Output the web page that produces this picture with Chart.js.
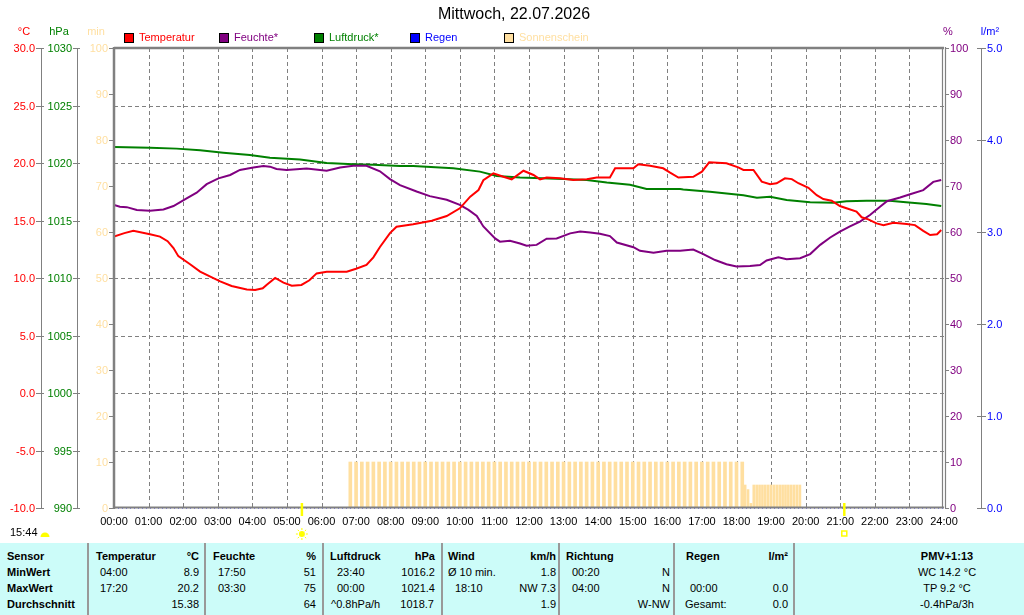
<!DOCTYPE html>
<html>
<head>
<meta charset="utf-8">
<script src="https://cdn.jsdelivr.net/npm/chart.js@4.4.0/dist/chart.umd.min.js"></script>
<style>
body { margin: 0; background: #fff; width: 1024px; height: 615px; overflow: hidden; font-family: "Liberation Sans", Arial, sans-serif; }
#wrap { position: relative; width: 1024px; height: 543px; }
#stats { position: absolute; left: 0; top: 543px; width: 1024px; height: 72px; background: #ccfcf9; font-size: 11px; color: #000; }
#stats span { position: absolute; white-space: nowrap; line-height: 13px; }
#stats .b { font-weight: bold; }
#stats .c { transform: translateX(-50%); }
#stats .sep { position: absolute; top: 0; width: 2px; height: 72px; background: #999; }
</style>
</head>
<body>
<div id="wrap"><canvas id="chart" width="1024" height="543"></canvas></div>
<div id="stats">
  <div class="sep" style="left:87px"></div>
  <div class="sep" style="left:204px"></div>
  <div class="sep" style="left:322px"></div>
  <div class="sep" style="left:441px"></div>
  <div class="sep" style="left:558px"></div>
  <div class="sep" style="left:673px"></div>
  <div class="sep" style="left:793px"></div>

  <span class="b" style="left:7px;top:7px">Sensor</span>
  <span class="b" style="left:7px;top:23px">MinWert</span>
  <span class="b" style="left:7px;top:39px">MaxWert</span>
  <span class="b" style="left:7px;top:55px">Durchschnitt</span>

  <span class="b" style="left:96px;top:7px">Temperatur</span>
  <span class="b" style="right:825px;top:7px">°C</span>
  <span style="left:100px;top:23px">04:00</span>
  <span style="right:825px;top:23px">8.9</span>
  <span style="left:100px;top:39px">17:20</span>
  <span style="right:825px;top:39px">20.2</span>
  <span style="right:825px;top:55px">15.38</span>

  <span class="b" style="left:213px;top:7px">Feuchte</span>
  <span class="b" style="right:708px;top:7px">%</span>
  <span style="left:218px;top:23px">17:50</span>
  <span style="right:708px;top:23px">51</span>
  <span style="left:218px;top:39px">03:30</span>
  <span style="right:708px;top:39px">75</span>
  <span style="right:708px;top:55px">64</span>

  <span class="b" style="left:330px;top:7px">Luftdruck</span>
  <span class="b" style="right:589px;top:7px">hPa</span>
  <span style="left:337px;top:23px">23:40</span>
  <span style="right:589px;top:23px">1016.2</span>
  <span style="left:337px;top:39px">00:00</span>
  <span style="right:589px;top:39px">1021.4</span>
  <span style="left:331px;top:55px">^0.8hPa/h</span>
  <span style="right:590px;top:55px">1018.7</span>

  <span class="b" style="left:448px;top:7px">Wind</span>
  <span class="b" style="right:468px;top:7px">km/h</span>
  <span style="left:448px;top:23px">Ø 10 min.</span>
  <span style="right:468px;top:23px">1.8</span>
  <span style="left:455px;top:39px">18:10</span>
  <span style="right:468px;top:39px">NW 7.3</span>
  <span style="right:468px;top:55px">1.9</span>

  <span class="b" style="left:566px;top:7px">Richtung</span>
  <span style="left:572px;top:23px">00:20</span>
  <span style="right:354px;top:23px">N</span>
  <span style="left:572px;top:39px">04:00</span>
  <span style="right:354px;top:39px">N</span>
  <span style="right:354px;top:55px">W-NW</span>

  <span class="b" style="left:686px;top:7px">Regen</span>
  <span class="b" style="right:236px;top:7px">l/m²</span>
  <span style="left:690px;top:39px">00:00</span>
  <span style="right:236px;top:39px">0.0</span>
  <span style="left:685px;top:55px">Gesamt:</span>
  <span style="right:236px;top:55px">0.0</span>

  <span class="b c" style="left:947px;top:7px">PMV+1:13</span>
  <span class="c" style="left:947px;top:23px">WC 14.2 °C</span>
  <span class="c" style="left:947px;top:39px">TP 9.2 °C</span>
  <span class="c" style="left:947px;top:55px">-0.4hPa/3h</span>
</div>
<script>
// values, x in hours
const tempHours = [0, 0.3, 0.56, 1.04, 1.33, 1.55, 1.72, 1.86, 2.2, 2.49, 2.8, 3.07, 3.4, 3.84, 4.08, 4.3, 4.41, 4.66, 4.9, 5.14,
  5.42, 5.65, 5.86, 6.15, 6.73, 7.0, 7.3, 7.5, 7.69, 7.98, 8.17, 8.65, 9.19, 9.62, 10.0, 10.3, 10.54, 10.68, 10.97, 11.26,
  11.5, 11.84, 12.13, 12.32, 12.51, 12.9, 13.28, 13.67, 13.96, 14.34, 14.49, 15.02, 15.16, 15.5, 15.88, 16.08, 16.32, 16.75, 17.0, 17.21,
  17.71, 18.05, 18.2, 18.49, 18.73, 18.97, 19.16, 19.4, 19.6, 19.79, 20.08, 20.32, 20.51, 20.75, 20.99, 21.18, 21.47, 21.62, 21.81, 22.05,
  22.25, 22.54, 22.92, 23.16, 23.4, 23.6, 23.8, 23.92];
const tempValues = [13.6, 13.9, 14.1, 13.8, 13.6, 13.2, 12.6, 11.9, 11.2, 10.55, 10.1, 9.7, 9.3, 9.0, 8.95, 9.1, 9.4, 10.0, 9.6, 9.33,
  9.4, 9.8, 10.4, 10.55, 10.55, 10.8, 11.13, 11.8, 12.7, 13.9, 14.46, 14.67, 14.98, 15.39, 16.06, 17.07, 17.65, 18.5, 19.1, 18.8,
  18.58, 19.33, 18.96, 18.58, 18.73, 18.67, 18.52, 18.58, 18.73, 18.73, 19.54, 19.54, 19.89, 19.77, 19.54, 19.16, 18.73, 18.8, 19.25, 20.06,
  19.97, 19.62, 19.4, 19.4, 18.38, 18.15, 18.24, 18.67, 18.6, 18.24, 17.85, 17.2, 16.87, 16.72, 16.26, 16.06, 15.77, 15.28, 15.1, 14.75,
  14.6, 14.8, 14.7, 14.6, 14.1, 13.74, 13.8, 14.17];

const humHours = [0, 0.17, 0.37, 0.66, 1.04, 1.43, 1.72, 2.1, 2.39, 2.68, 3.02, 3.36, 3.64, 4.03, 4.32, 4.51, 4.7, 4.99, 5.57, 6.15,
  6.54, 6.92, 7.3, 7.69, 7.98, 8.27, 8.75, 9.13, 9.62, 10.0, 10.25, 10.49, 10.68, 11.02, 11.16, 11.45, 11.74, 11.93, 12.22, 12.51,
  12.8, 13.19, 13.48, 13.77, 14.05, 14.34, 14.54, 15.02, 15.21, 15.6, 15.98, 16.37, 16.75, 17.04, 17.38, 17.71, 18.0, 18.39, 18.68, 18.87,
  19.21, 19.45, 19.84, 20.13, 20.42, 20.71, 20.99, 21.28, 21.57, 21.86, 22.15, 22.35, 22.73, 23.02, 23.4, 23.69, 23.92];
const humValues = [65.9, 65.5, 65.4, 64.8, 64.6, 64.9, 65.65, 67.3, 68.55, 70.4, 71.67, 72.4, 73.5, 74.0, 74.35, 74.2, 73.7, 73.5, 73.8, 73.3,
  74.0, 74.4, 74.4, 73.2, 71.5, 70.2, 68.8, 67.8, 67.0, 65.9, 64.8, 63.5, 61.2, 58.6, 57.9, 58.1, 57.5, 57.0, 57.2, 58.55,
  58.6, 59.7, 60.1, 59.9, 59.6, 59.1, 57.7, 56.7, 55.9, 55.5, 55.9, 55.9, 56.2, 55.2, 53.9, 53.0, 52.5, 52.6, 52.8, 53.8,
  54.5, 54.1, 54.3, 55.2, 57.2, 58.8, 60.1, 61.2, 62.25, 63.7, 65.5, 66.7, 67.5, 68.2, 69.1, 70.9, 71.3];

const pressHours = [0, 1.04, 1.81, 2.49, 3.16, 3.93, 4.51, 5.38, 6.15, 6.92, 7.5, 8.27, 8.65, 9.81, 10.58, 11.07, 11.74, 12.99, 13.67,
  14.25, 14.92, 15.4, 16.37, 16.46, 17.23, 18.2, 18.59, 18.97, 19.45, 20.13, 20.8, 21.18, 21.76, 22.43, 22.82, 23.49, 23.92];
const pressValues = [1021.4, 1021.33, 1021.25, 1021.1, 1020.9, 1020.7, 1020.46, 1020.3, 1020.0, 1019.9, 1019.85, 1019.74, 1019.74, 1019.54,
  1019.25, 1018.87, 1018.73, 1018.6, 1018.52, 1018.3, 1018.1, 1017.74, 1017.74, 1017.7, 1017.5, 1017.2, 1016.98, 1017.07, 1016.78,
  1016.58, 1016.55, 1016.67, 1016.72, 1016.72, 1016.6, 1016.43, 1016.26];

const rainHours = [0, 24];
const rainValues = [0, 0];

// sunshine minutes per 10-min slot from 06:50, then per 5-min slot from 18:15
const sunStart = "06:50";
const sunMinutes = [10, 10, 10, 10, 10, 10, 10, 10, 10, 10,
  10, 10, 10, 10, 10, 10, 10, 10, 10, 10,
  10, 10, 10, 10, 10, 10, 10, 10, 10, 10,
  10, 10, 10, 10, 10, 10, 10, 10, 10, 10,
  10, 10, 10, 10, 10, 10, 10, 10, 10, 10,
  10, 10, 10, 10, 10, 10, 10, 10, 10, 10,
  10, 10, 10, 10, 10, 10, 10, 10, 10];
const sunLateStart = "18:15";
const sunLateMinutes = [5, 4, 1, 5, 5, 5, 5, 5, 5, 5, 5, 5, 5, 5, 5, 5, 5, 5, 5, 5];

const sunrise = "05:26";
const sunset = "21:07";

const hourLabels = ["00:00", "01:00", "02:00", "03:00", "04:00", "05:00", "06:00", "07:00", "08:00", "09:00", "10:00", "11:00", "12:00",
  "13:00", "14:00", "15:00", "16:00", "17:00", "18:00", "19:00", "20:00", "21:00", "22:00", "23:00", "24:00"];
const tempTicks = ["-10.0", "-5.0", "0.0", "5.0", "10.0", "15.0", "20.0", "25.0", "30.0"];
const pressTicks = ["990", "995", "1000", "1005", "1010", "1015", "1020", "1025", "1030"];
const minTicks = ["0", "10", "20", "30", "40", "50", "60", "70", "80", "90", "100"];
const humTicks = ["0", "10", "20", "30", "40", "50", "60", "70", "80", "90", "100"];
const rainTicks = ["0.0", "1.0", "2.0", "3.0", "4.0", "5.0"];

const RED = '#ff0000', PURPLE = '#800080', GREEN = '#008000', BLUE = '#0000ff', SUN = '#ffdfa0', GRAY = '#808080';
const FONT = '11px "Liberation Sans", Arial, sans-serif';

const hm = s => { const [h, m] = s.split(':').map(Number); return h + m / 60; };
const pts = (xs, ys) => xs.map((x, i) => ({ x, y: ys[i] }));
const slots = (start, step, ys) => ys.map((y, i) => ({ x: hm(start) + i * step / 60, y }));

function seg(ctx, x1, y1, x2, y2) {
  ctx.beginPath();
  ctx.moveTo(x1, y1);
  ctx.lineTo(x2, y2);
  ctx.stroke();
}

const frame = {
  id: 'frame',
  beforeDatasetsDraw(chart) {
    const { ctx, chartArea: a, scales: s } = chart;
    ctx.save();
    ctx.strokeStyle = GRAY;
    ctx.lineWidth = 1;
    ctx.setLineDash([4, 3]);
    tempTicks.forEach(t => {
      const y = Math.round(s.yT.getPixelForValue(+t)) + 0.5;
      if (y > a.top + 3 && y < a.bottom - 3) seg(ctx, a.left, y, a.right, y);
    });
    hourLabels.forEach(h => {
      const x = Math.round(s.x.getPixelForValue(hm(h))) + 0.5;
      if (x > a.left + 3 && x < a.right - 3) seg(ctx, x, a.top, x, a.bottom);
    });
    ctx.restore();
  },
  afterDatasetsDraw(chart) {
    const { ctx, chartArea: a, scales: s } = chart;
    ctx.save();
    ctx.font = FONT;
    ctx.textBaseline = 'middle';

    // plot frame
    ctx.strokeStyle = GRAY;
    ctx.lineWidth = 2.5;
    seg(ctx, a.left, a.top, a.right, a.top);
    seg(ctx, a.left, a.top - 1, a.left, a.bottom + 1);
    ctx.lineWidth = 2;
    seg(ctx, a.left, a.bottom - 0.5, a.right, a.bottom - 0.5);
    ctx.lineWidth = 1.2;
    seg(ctx, a.right - 1.5, a.top, a.right - 1.5, a.bottom);
    seg(ctx, a.right + 1.5, a.top - 1, a.right + 1.5, a.bottom);

    // left axes
    ctx.lineWidth = 1;
    seg(ctx, 41.5, a.top, 41.5, a.bottom);
    seg(ctx, 77.5, a.top, 77.5, a.bottom);
    ctx.textAlign = 'right';
    ctx.fillStyle = RED;
    tempTicks.forEach(t => {
      const y = Math.round(s.yT.getPixelForValue(+t)) + 0.5;
      seg(ctx, 36, y, 44, y);
      ctx.fillText(t, 35, y);
    });
    ctx.fillStyle = GREEN;
    pressTicks.forEach(t => {
      const y = Math.round(s.yP.getPixelForValue(+t)) + 0.5;
      seg(ctx, 73, y, 80, y);
      ctx.fillText(t, 72, y);
    });
    ctx.fillStyle = SUN;
    minTicks.forEach(t => {
      const y = Math.round(s.yM.getPixelForValue(+t)) + 0.5;
      seg(ctx, 109, y, a.left, y);
      ctx.fillText(t, 108, y);
    });

    // right axes
    ctx.textAlign = 'left';
    ctx.fillStyle = PURPLE;
    humTicks.forEach(t => {
      const y = Math.round(s.yH.getPixelForValue(+t)) + 0.5;
      seg(ctx, a.right + 1, y, a.right + 5, y);
      ctx.fillText(t, a.right + 6, y);
    });
    seg(ctx, 981.5, a.top, 981.5, a.bottom);
    ctx.fillStyle = BLUE;
    rainTicks.forEach(t => {
      const y = Math.round(s.yR.getPixelForValue(+t)) + 0.5;
      seg(ctx, 977, y, 986, y);
      ctx.fillText(t, 987, y);
    });

    // unit captions
    ctx.textAlign = 'center';
    [['°C', 24, RED], ['hPa', 59, GREEN], ['min', 96, SUN], ['%', 948, PURPLE], ['l/m²', 990, BLUE]].forEach(([t, x, c]) => {
      ctx.fillStyle = c;
      ctx.fillText(t, x, 32);
    });

    // hour labels
    ctx.fillStyle = '#000';
    hourLabels.forEach(h => ctx.fillText(h, s.x.getPixelForValue(hm(h)), 522));

    // title
    ctx.font = '16px "Liberation Sans", Arial, sans-serif';
    ctx.fillText('Mittwoch, 22.07.2026', 514, 15);

    // legend
    ctx.font = FONT;
    ctx.textAlign = 'left';
    [['Temperatur', 124, RED], ['Feuchte*', 219, PURPLE], ['Luftdruck*', 314, GREEN], ['Regen', 410, BLUE], ['Sonnenschein', 504, SUN]]
      .forEach(([t, x, c]) => {
        ctx.fillStyle = c;
        ctx.fillRect(x, 33, 10, 10);
        ctx.strokeStyle = '#000';
        ctx.lineWidth = 1;
        ctx.strokeRect(x + 0.5, 33.5, 9, 9);
        ctx.fillText(t, x + 15, 38);
      });

    // sunrise / sunset marks
    ctx.strokeStyle = '#ffff00';
    ctx.lineWidth = 2.5;
    const xr = s.x.getPixelForValue(hm(sunrise));
    const xs = s.x.getPixelForValue(hm(sunset));
    seg(ctx, xr, 503, xr, 516);
    seg(ctx, xs, 503, xs, 516);
    ctx.fillStyle = '#ffff00';
    ctx.beginPath();
    ctx.arc(xr, 534, 3, 0, Math.PI * 2);
    ctx.fill();
    ctx.lineWidth = 1;
    for (let k = 0; k < 8; k++) {
      const ang = k * Math.PI / 4;
      seg(ctx, xr + Math.cos(ang) * 4, 534 + Math.sin(ang) * 4, xr + Math.cos(ang) * 6, 534 + Math.sin(ang) * 6);
    }
    ctx.lineWidth = 1.5;
    ctx.strokeRect(xs - 2.5, 531, 5, 5);

    // time stamp with sun symbol
    ctx.fillStyle = '#000';
    ctx.fillText('15:44', 10, 533);
    ctx.fillStyle = '#ffff00';
    ctx.beginPath();
    ctx.arc(45, 537, 4.5, Math.PI, 0);
    ctx.fill();
    ctx.restore();
  }
};

new Chart(document.getElementById('chart'), {
  type: 'line',
  data: {
    datasets: [
      { label: 'Temperatur', data: pts(tempHours, tempValues), yAxisID: 'yT', borderColor: RED, borderWidth: 2, order: 1 },
      { label: 'Feuchte*', data: pts(humHours, humValues), yAxisID: 'yH', borderColor: PURPLE, borderWidth: 2, order: 2 },
      { label: 'Luftdruck*', data: pts(pressHours, pressValues), yAxisID: 'yP', borderColor: GREEN, borderWidth: 2, order: 3 },
      { label: 'Regen', data: pts(rainHours, rainValues), yAxisID: 'yR', borderColor: BLUE, borderWidth: 1, borderDash: [1, 3], order: 4, clip: 3 },
      { type: 'bar', label: 'Sonnenschein', data: slots(sunStart, 10, sunMinutes), yAxisID: 'yM', backgroundColor: SUN,
        barThickness: 3, grouped: false, order: 5 },
      { type: 'bar', label: 'Sonnenschein spät', data: slots(sunLateStart, 5, sunLateMinutes), yAxisID: 'yM', backgroundColor: SUN,
        barThickness: 2, grouped: false, order: 6 }
    ]
  },
  options: {
    responsive: false,
    animation: false,
    devicePixelRatio: 1,
    layout: { padding: { left: 114, right: 80, top: 48, bottom: 35 } },
    elements: { point: { radius: 0 }, line: { tension: 0 } },
    scales: {
      x: { type: 'linear', min: 0, max: 24, offset: false, display: false },
      yT: { type: 'linear', min: -10, max: 30, display: false },
      yP: { type: 'linear', min: 990, max: 1030, display: false },
      yM: { type: 'linear', min: 0, max: 100, display: false },
      yH: { type: 'linear', min: 0, max: 100, display: false },
      yR: { type: 'linear', min: 0, max: 5, display: false }
    },
    plugins: { legend: { display: false }, tooltip: { enabled: false }, title: { display: false } }
  },
  plugins: [frame]
});
</script>
</body>
</html>
